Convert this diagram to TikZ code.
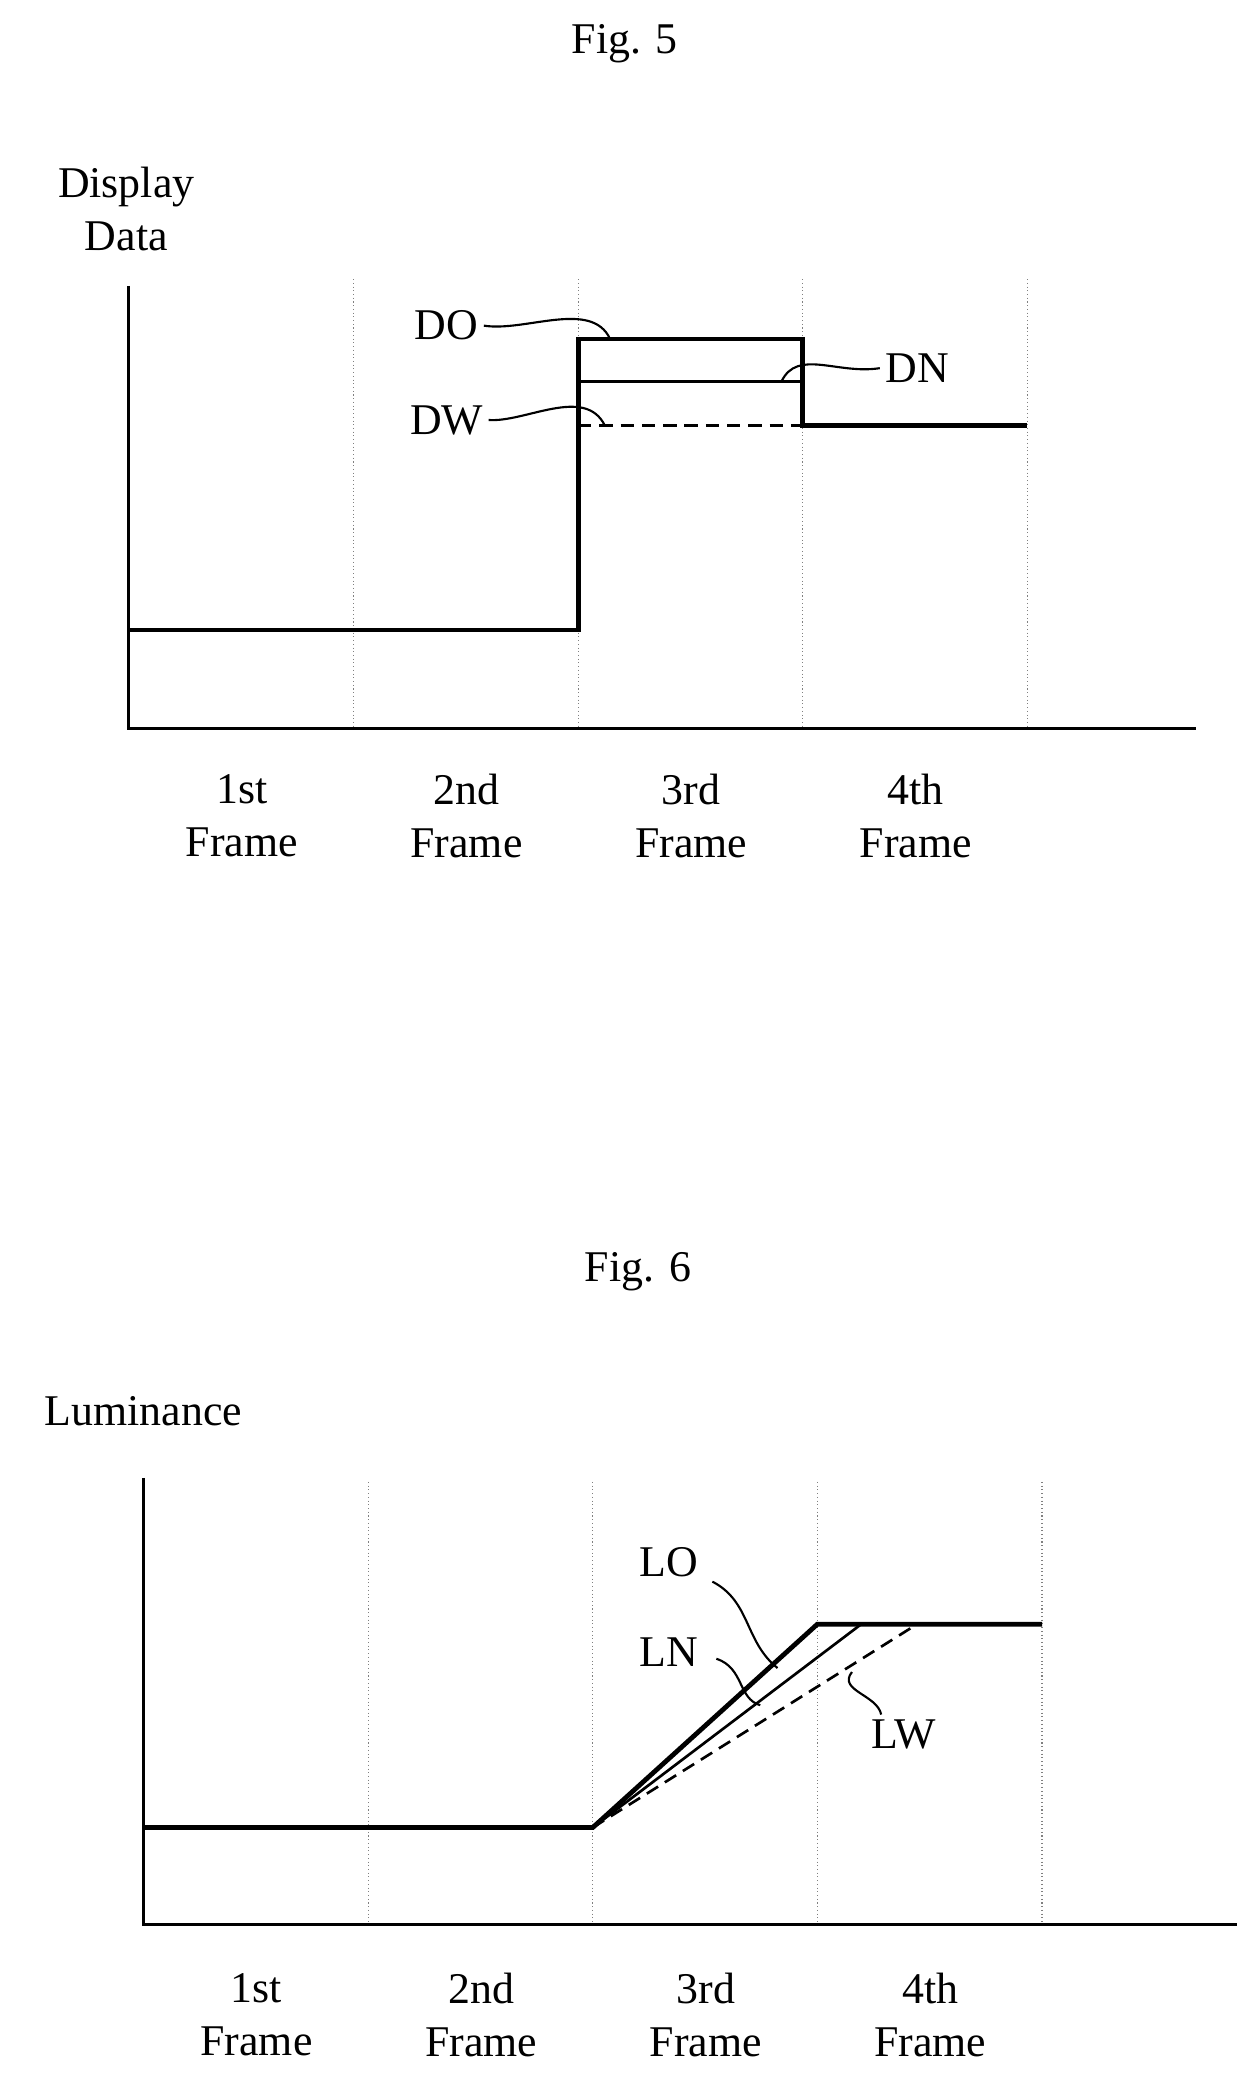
\documentclass[tikz,border=0pt]{standalone}
\usepackage{fontspec}
\setmainfont{Liberation Serif}
\begin{document}
\begin{tikzpicture}[x=1pt,y=-1pt,
  ax/.style={line width=2.2pt},
  thick/.style={line width=3.6pt},
  thin/.style={line width=2pt},
  dsh/.style={line width=2pt,dash pattern=on 10pt off 6pt},
  grid/.style={line width=0.8pt,dotted,gray},
  lead/.style={line width=1.6pt},
  lbl/.style={font=\fontsize{33}{40}\selectfont,align=center,inner sep=0pt}]
\useasboundingbox (0,0) rectangle (930,1571);
% ---------- Fig 5
\node[lbl] (t5) at (470,33) {Fig. 5};
\node[lbl] (yl5) at (95,157) {Display\\Data};
\coordinate (o5) at (97,548);
\coordinate (y5) at (97,215);
\coordinate (x5) at (900,548);
\draw[ax] (y5) -- (o5) -- (x5);
\foreach \x in {266,435,604,773}{\draw[grid] (\x,210) -- (\x,548);}
\coordinate (a1) at (97,474);
\coordinate (a2) at (435,474);
\coordinate (a3) at (435,255);
\coordinate (a4) at (604,255);
\coordinate (a5) at (604,320);
\coordinate (a6) at (773,320);
\draw[thick] (a1) -- (a2) -- (a3) -- (a4) -- (a5) -- (a6);
\coordinate (n1) at (435,287);
\coordinate (n2) at (604,287);
\draw[thin] (n1) -- (n2);
\coordinate (w1) at (435,320);
\coordinate (w2) at (604,320);
\draw[dsh] (w1) -- (w2);
\node[lbl] (DO) at (336,245) {DO};
\node[lbl] (DN) at (690,277) {DN};
\node[lbl] (DW) at (336,316) {DW};
\draw[lead] (DO.east) ++(4,0) coordinate (do0) .. controls (395,250) and (445,225) .. (459,255);
\draw[lead] (DN.west) ++(-4,0) coordinate (dn0) .. controls (630,282) and (600,262) .. (588,287);
\draw[lead] (DW.east) ++(4,0) coordinate (dw0) .. controls (395,318) and (440,290) .. (455,320);
\foreach \x/\n in {182/1st,351/2nd,520/3rd,689/4th}{\node[lbl] at (\x,614) {\n\\Frame};}
% ---------- Fig 6
\node[lbl] (t6) at (480,957) {Fig. 6};
\node[lbl] (yl6) at (108,1062) {Luminance};
\coordinate (o6) at (108,1448);
\coordinate (y6) at (108,1112);
\coordinate (x6) at (940,1448);
\draw[ax] (y6) -- (o6) -- (x6);
\foreach \x in {277,446,615,784}{\draw[grid] (\x,1115) -- (\x,1448);}
\coordinate (b1) at (108,1375);
\coordinate (b2) at (446,1375);
\coordinate (b3) at (615,1222);
\coordinate (b4) at (784,1222);
\draw[thick] (b1) -- (b2) -- (b3) -- (b4);
\coordinate (c3) at (648,1222);
\draw[thin] (b2) -- (c3);
\coordinate (d3) at (690,1222);
\draw[dsh] (b2) -- (d3);
\node[lbl] (LO) at (503,1175) {LO};
\node[lbl] (LN) at (503,1243) {LN};
\node[lbl] (LW) at (680,1305) {LW};
\draw[lead] (536,1190) .. controls (565,1205) and (560,1235) .. (585,1255);
\draw[lead] (539,1248) .. controls (560,1255) and (555,1278) .. (572,1283);
\draw[lead] (641,1258) .. controls (630,1272) and (660,1275) .. (663,1290);
\foreach \x/\n in {193/1st,362/2nd,531/3rd,700/4th}{\node[lbl] at (\x,1516) {\n\\Frame};}
\end{tikzpicture}
\end{document}
